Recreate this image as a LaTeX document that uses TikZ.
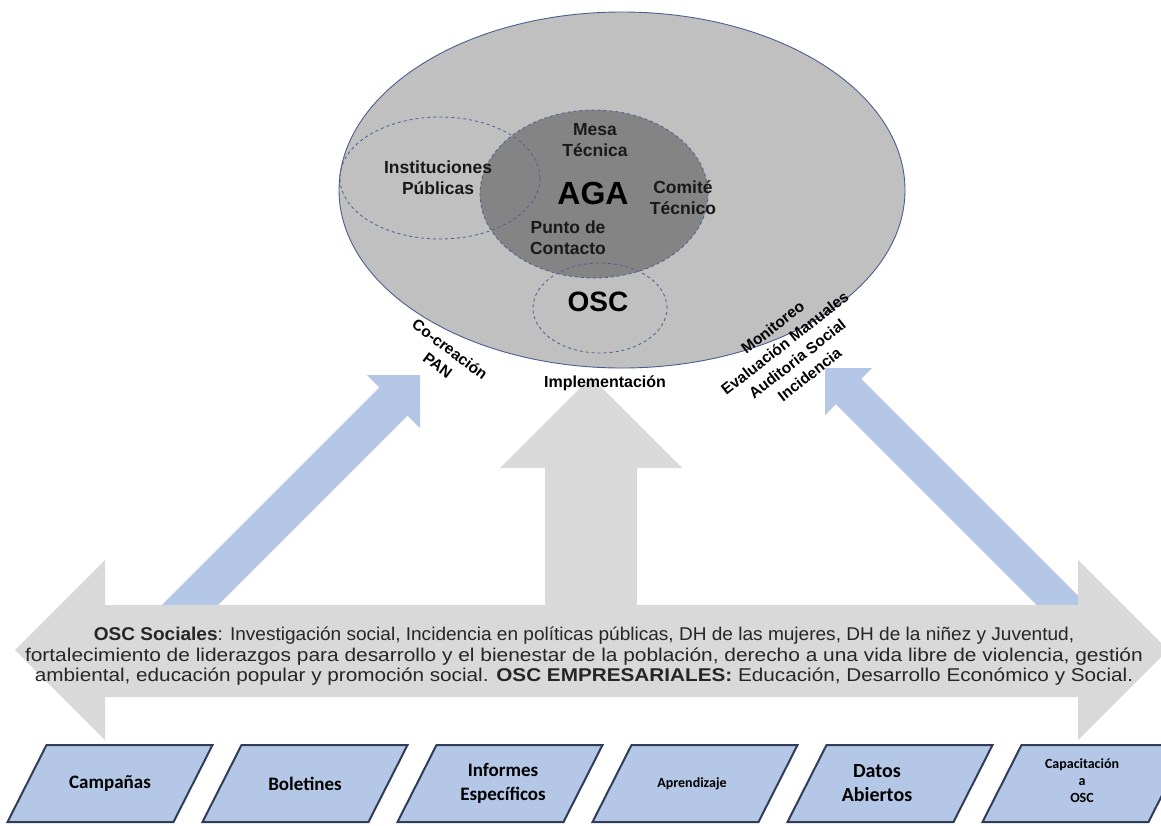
\documentclass[tikz,border=0pt]{standalone}
\usepackage{fontspec}
\setmainfont{Liberation Sans}
\newfontfamily\calibri{Carlito}
\usepackage{tikz}
\usetikzlibrary{shapes.geometric,positioning}

\definecolor{ringgray}{HTML}{C0C0C0}
\definecolor{coregray}{HTML}{848484}
\definecolor{edgeblue}{HTML}{4A5F8F}
\definecolor{paleblue}{HTML}{B4C7E7}
\definecolor{bargray}{HTML}{D9D9D9}
\definecolor{boxedge}{HTML}{2F3D58}

\tikzset{
  ring/.style={ellipse, draw=edgeblue, line width=0.9pt, inner sep=0pt},
  dashring/.style={ellipse, draw=edgeblue, dashed, line width=0.8pt, inner sep=0pt},
  lbl/.style={font=\bfseries\fontsize{17.5}{21}\selectfont, align=center, text=black!90},
  tiltlbl/.style={font=\bfseries\fontsize{15.5}{20}\selectfont, align=center, inner sep=0pt},
  chip/.style={fill=paleblue, draw=boxedge, line width=2pt, line join=miter},
  chiptxt/.style={align=center, inner sep=0pt, font=\calibri\bfseries\fontsize{19}{24}\selectfont}
}

\begin{document}
\begin{tikzpicture}[x=1pt, y=-1pt]
    \useasboundingbox (0,0) rectangle (1161,825);

    % Outer ellipse and the groups inside
    \node[ring, fill=ringgray, minimum width=566pt, minimum height=356pt] (gov) at (622,190) {};
    \node[dashring, fill=coregray, minimum width=228pt, minimum height=168pt] (aga) at (594,194) {};
    \node[dashring, minimum width=200pt, minimum height=122pt] (inst) at (440,178) {};
    \node[dashring, minimum width=134pt, minimum height=90pt] (osc) at (600,308) {};

    \node[lbl] (mesa) at (595,140) {Mesa\\Técnica};
    \node[font=\bfseries\fontsize{32}{36}\selectfont] (agatxt) at (593,193) {AGA};
    \node[lbl] (comite) at (683,198) {Comité\\Técnico};
    \node[lbl] (insttxt) at (438,178) {Instituciones\\Públicas};
    \node[lbl] (punto) at (568,238) {Punto de\\Contacto};
    \node[font=\bfseries\fontsize{28}{32}\selectfont] (osctxt) at (598,302) {OSC};

    % Labels round the ellipse
    \node[tiltlbl, rotate=-37] (cocrea) at (444,357) {Co-creación\\PAN};
    \node[tiltlbl, rotate=38] (monit) at (791,351) {Monitoreo\\Evaluación Manuales\\Auditoria Social\\Incidencia};

    % Blue arrows (behind the grey band)
    \fill[paleblue] (420,375) -- (420,428) -- (407.6,415.6) -- (159.1,664.1) -- (130.9,635.9) -- (379.4,387.4) -- (367,375) -- cycle;
    \fill[paleblue] (825,368) -- (872,368) -- (861.2,378.8) -- (1119.7,637.3) -- (1094.3,662.7) -- (835.8,404.2) -- (825,415) -- cycle;

    % Grey band with up arrow
    \fill[bargray] (15,650) -- (105,560) -- (105,605) -- (545,605) -- (545,468) -- (500,468)
        -- (591,377) -- (682,468) -- (637,468) -- (637,605) -- (1078,605) -- (1078,560)
        -- (1168,650) -- (1078,740) -- (1078,697) -- (105,697) -- (105,740) -- cycle;
    \node[font=\bfseries\fontsize{16}{19}\selectfont] (impl) at (605,383) {Implementación};

    \node[font=\fontsize{18.5}{20.8}\selectfont, inner sep=0pt, text=black!85] (oscs) at (584,657)
        {\begin{tabular}{@{}c@{}}
         \scalebox{1.03}[1]{\textbf{OSC Sociales}: Investigación social, Incidencia en políticas públicas, DH de las mujeres, DH de la niñez y Juventud,}\\
         \scalebox{1.13}[1]{fortalecimiento de liderazgos para desarrollo y el bienestar de la población, derecho a una vida libre de violencia, gestión}\\
         \scalebox{1.12}[1]{ambiental, educación popular y promoción social. \textbf{OSC EMPRESARIALES:} Educación, Desarrollo Económico y Social.}
         \end{tabular}};

    % Products
    \foreach \cx in {110,305,500,695,890,1085}
        \draw[chip] (\cx-63.5,745) -- (\cx+102.5,745) -- (\cx+63.5,822) -- (\cx-102.5,822) -- cycle;

    \node[chiptxt] (camp) at (110,783.5) {Campañas};
    \node[chiptxt] (bolet) at (305,783.5) {Boletines};
    \node[chiptxt] (infor) at (503,783.5) {Informes\\Específicos};
    \node[chiptxt, font=\calibri\bfseries\fontsize{14}{18}\selectfont] (aprend) at (692,783.5) {Aprendizaje};
    \node[chiptxt, font=\calibri\bfseries\fontsize{20}{24}\selectfont] (datos) at (877,783.5) {Datos\\Abiertos};
    \node[chiptxt, font=\calibri\bfseries\fontsize{14}{17}\selectfont] (capac) at (1082,781) {Capacitación\\a\\OSC};
\end{tikzpicture}
\end{document}
